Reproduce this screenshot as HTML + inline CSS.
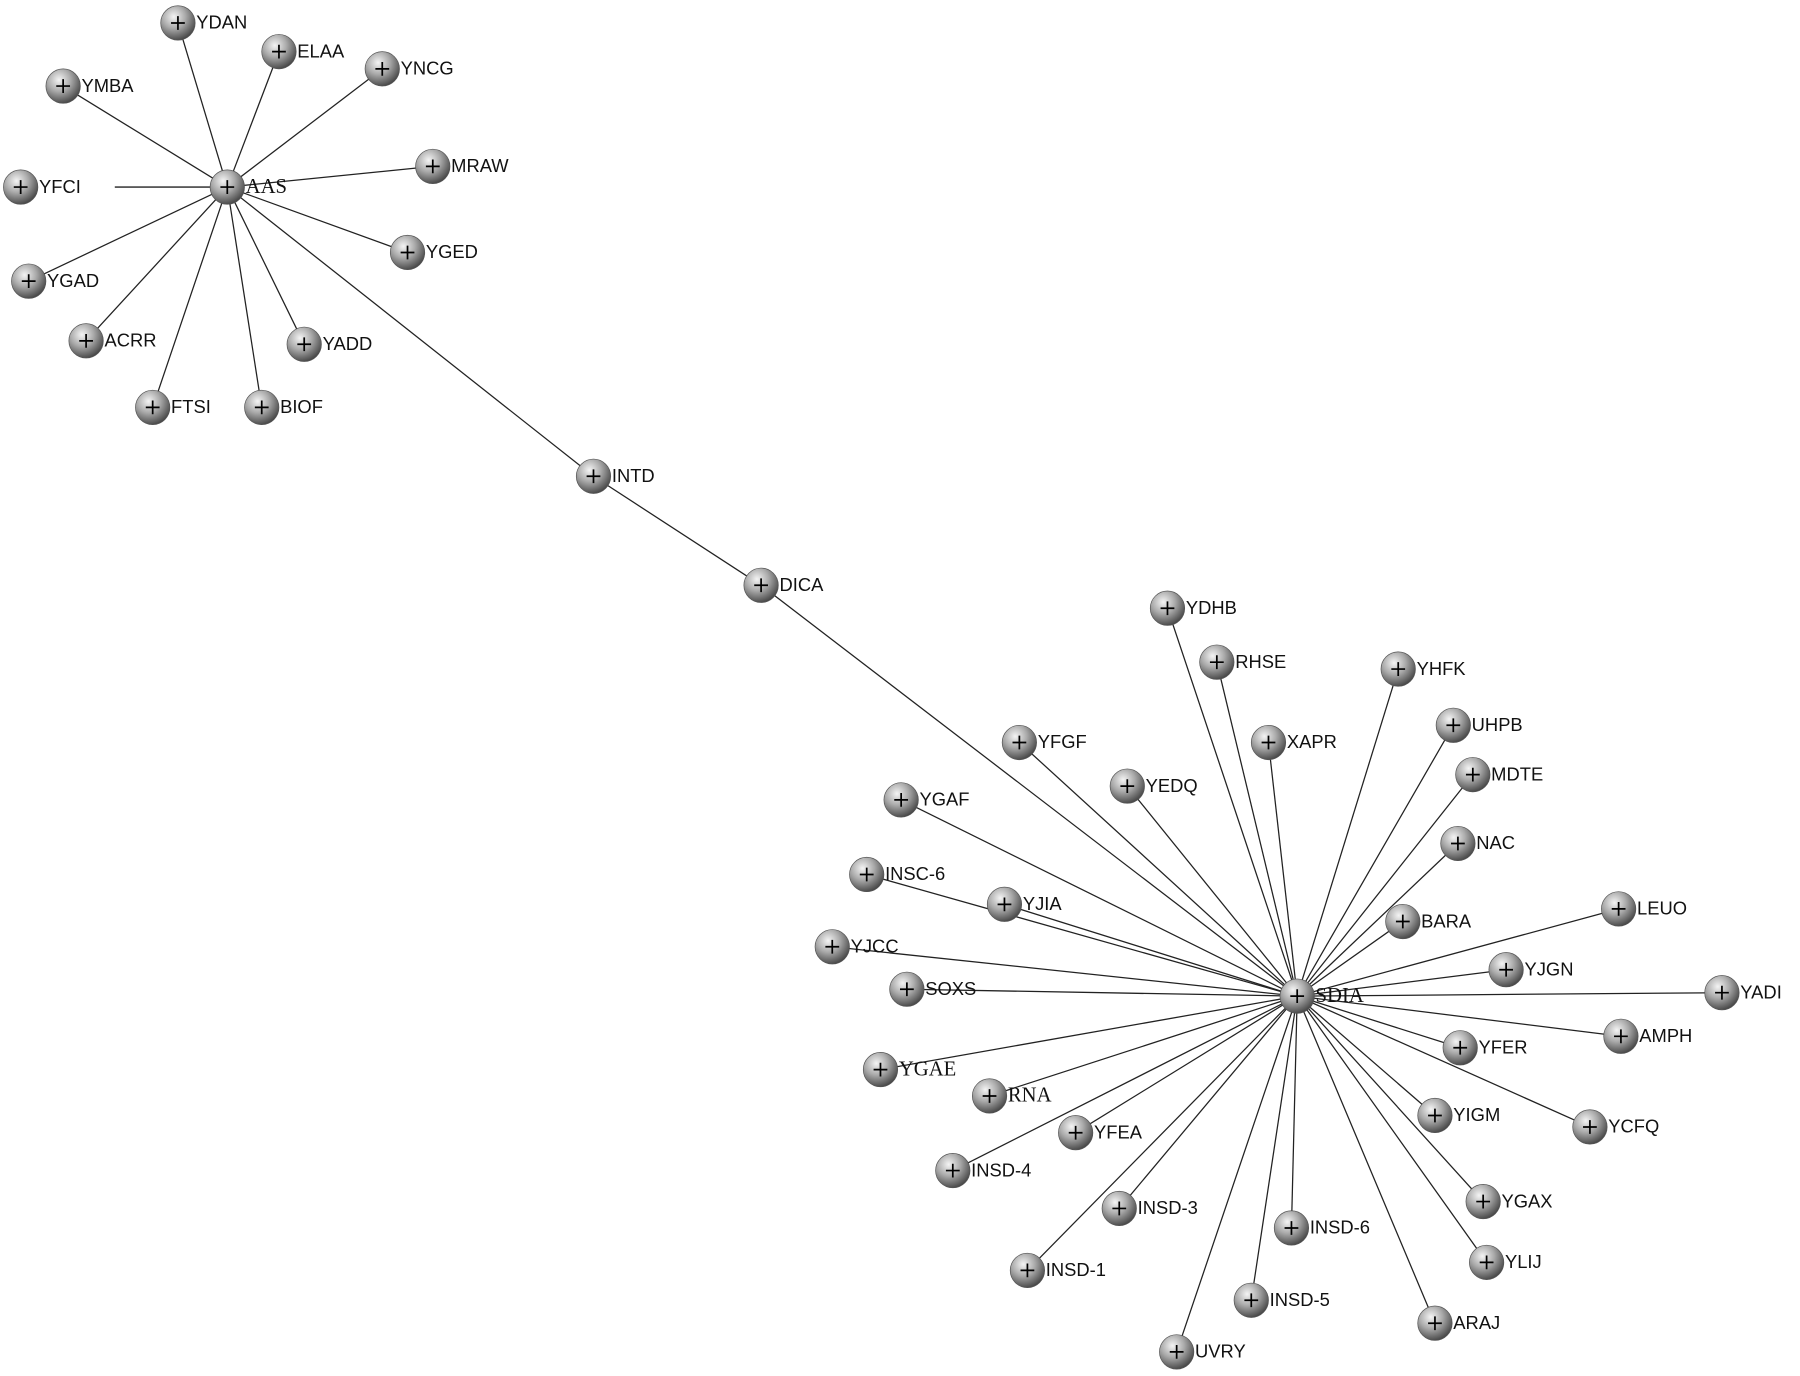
<!DOCTYPE html>
<html><head><meta charset="utf-8"><style>
html,body{margin:0;padding:0;background:#fff;}
svg{display:block}
text{font-family:"Liberation Sans",sans-serif;font-size:16px;fill:#111}
.s{font-family:"Liberation Serif",serif;font-size:18px}
</style></head><body>
<svg width="1800" height="1376" viewBox="0 0 1568 1199" preserveAspectRatio="none" xmlns="http://www.w3.org/2000/svg">
<defs><radialGradient id="g" cx="0.38" cy="0.32" r="0.75">
<stop offset="0" stop-color="#f4f4f4"/><stop offset="0.45" stop-color="#aaa"/><stop offset="1" stop-color="#3a3a3a"/></radialGradient>
<g id="n"><circle r="15" fill="url(#g)" stroke="#555" stroke-width="0.6"/><path d="M-6 0H6M0 -6V6" stroke="#000" stroke-width="1.5"/></g></defs>
<g id="lines" stroke="#222" stroke-width="1.1"></g>
<g id="nodes"></g>
<script>
var A=[198,163],S=[1130,868];
var a=[["YDAN",155,20],["ELAA",243,45],["YNCG",333,60],["YMBA",55,75],["MRAW",377,145],["YGED",355,220],["YGAD",25,245],["ACRR",75,297],["YADD",265,300],["FTSI",133,355],["BIOF",228,355]];
var s=[["YDHB",1017,530],["RHSE",1060,577],["YHFK",1218,583],["XAPR",1105,647],["UHPB",1266,632],["YFGF",888,647],["MDTE",1283,675],["YEDQ",982,685],["YGAF",785,697],["NAC",1270,735],["INSC-6",755,762],["YJIA",875,788],["LEUO",1410,792],["BARA",1222,803],["YJCC",725,825],["YJGN",1312,845],["SOXS",790,862],["YADI",1500,865],["AMPH",1412,903],["YFER",1272,913],["YGAE",767,932,1],["RNA",862,955,1],["YFEA",937,987],["YIGM",1250,972],["YCFQ",1385,982],["INSD-4",830,1020],["INSD-3",975,1053],["YGAX",1292,1047],["INSD-6",1125,1070],["INSD-1",895,1107],["YLIJ",1295,1100],["INSD-5",1090,1133],["ARAJ",1250,1153],["UVRY",1025,1178]];
var L=document.getElementById("lines"),N=document.getElementById("nodes"),ns="http://www.w3.org/2000/svg";
function line(p,q){var l=document.createElementNS(ns,"line");l.setAttribute("x1",p[0]);l.setAttribute("y1",p[1]);l.setAttribute("x2",q[0]);l.setAttribute("y2",q[1]);L.appendChild(l);}
function node(t,x,y,serif){var u=document.createElementNS(ns,"use");u.setAttribute("href","#n");u.setAttribute("x",x);u.setAttribute("y",y);N.appendChild(u);
var tx=document.createElementNS(ns,"text");tx.setAttribute("x",x+16);tx.setAttribute("y",y+5);if(serif)tx.setAttribute("class","s");tx.textContent=t;N.appendChild(tx);}
a.forEach(function(d){line(A,[d[1],d[2]]);});
line(A,[100,163]);
s.forEach(function(d){line(S,[d[1],d[2]]);});
line(A,[517,415]);line([517,415],[663,510]);line([663,510],S);
a.forEach(function(d){node(d[0],d[1],d[2],d[3]);});
node("YFCI",18,163);
s.forEach(function(d){node(d[0],d[1],d[2],d[3]);});
node("AAS",A[0],A[1],1);node("INTD",517,415);node("DICA",663,510);node("SDIA",S[0],S[1],1);
</script>
</svg>
</body></html>
